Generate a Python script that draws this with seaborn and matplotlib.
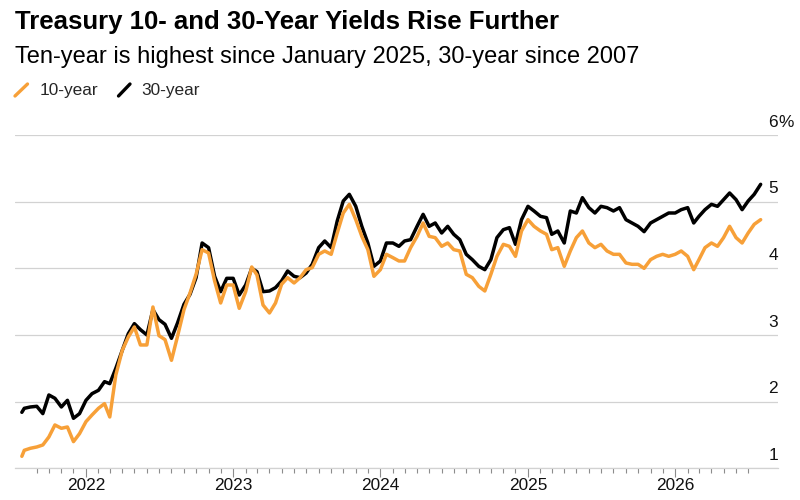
import pandas as pd
import numpy as np
import matplotlib.pyplot as plt
import matplotlib.dates as mdates
from matplotlib.lines import Line2D
import seaborn as sns

# ---- data (half-monthly samples) ----
Dates = [
    "2021-07-26", "2021-08-01", "2021-08-16", "2021-09-01", "2021-09-16", "2021-10-01",
    "2021-10-16", "2021-11-01", "2021-11-16", "2021-12-01", "2021-12-16",
    "2022-01-01", "2022-01-16", "2022-02-01", "2022-02-16", "2022-03-01", "2022-03-16",
    "2022-04-01", "2022-04-16", "2022-05-01", "2022-05-16", "2022-06-01", "2022-06-16",
    "2022-07-01", "2022-07-16", "2022-08-01", "2022-08-16", "2022-09-01", "2022-09-16",
    "2022-10-01", "2022-10-16", "2022-11-01", "2022-11-16", "2022-12-01", "2022-12-16",
    "2023-01-01", "2023-01-16", "2023-02-01", "2023-02-16", "2023-03-01", "2023-03-16",
    "2023-04-01", "2023-04-16", "2023-05-01", "2023-05-16", "2023-06-01", "2023-06-16",
    "2023-07-01", "2023-07-16", "2023-08-01", "2023-08-16", "2023-09-01", "2023-09-16",
    "2023-10-01", "2023-10-16", "2023-11-01", "2023-11-16", "2023-12-01", "2023-12-16",
    "2024-01-01", "2024-01-16", "2024-02-01", "2024-02-16", "2024-03-01", "2024-03-16",
    "2024-04-01", "2024-04-16", "2024-05-01", "2024-05-16", "2024-06-01", "2024-06-16",
    "2024-07-01", "2024-07-16", "2024-08-01", "2024-08-16", "2024-09-01", "2024-09-16",
    "2024-10-01", "2024-10-16", "2024-11-01", "2024-11-16", "2024-12-01", "2024-12-16",
    "2025-01-01", "2025-01-16", "2025-02-01", "2025-02-16", "2025-03-01", "2025-03-16",
    "2025-04-01", "2025-04-16", "2025-05-01", "2025-05-16", "2025-06-01", "2025-06-16",
    "2025-07-01", "2025-07-16", "2025-08-01", "2025-08-16", "2025-09-01", "2025-09-16",
    "2025-10-01", "2025-10-16", "2025-11-01", "2025-11-16", "2025-12-01", "2025-12-16",
    "2026-01-01", "2026-01-16", "2026-02-01", "2026-02-16", "2026-03-01", "2026-03-16",
    "2026-04-01", "2026-04-16", "2026-05-01", "2026-05-16", "2026-06-01", "2026-06-16",
    "2026-07-01", "2026-07-16", "2026-08-01",
]

Ten_Year = [
    1.18, 1.27, 1.30, 1.32, 1.35, 1.47, 1.65, 1.60, 1.62, 1.40, 1.52,
    1.70, 1.80, 1.90, 1.97, 1.77, 2.40, 2.77, 2.97, 3.12, 2.85, 2.85, 3.42,
    2.99, 2.93, 2.62, 2.98, 3.38, 3.63, 3.91, 4.28, 4.23, 3.81, 3.48, 3.75,
    3.75, 3.40, 3.65, 4.02, 3.90, 3.45, 3.33, 3.48, 3.76, 3.86, 3.78, 3.86,
    3.98, 4.01, 4.21, 4.26, 4.21, 4.53, 4.83, 4.96, 4.73, 4.48, 4.28, 3.88,
    3.98, 4.21, 4.16, 4.11, 4.11, 4.31, 4.48, 4.68, 4.48, 4.46, 4.33, 4.38,
    4.28, 4.26, 3.91, 3.86, 3.73, 3.66, 3.91, 4.18, 4.36, 4.33, 4.18, 4.56,
    4.73, 4.63, 4.56, 4.51, 4.28, 4.31, 4.03, 4.26, 4.46, 4.56, 4.38, 4.31,
    4.36, 4.26, 4.21, 4.21, 4.08, 4.06, 4.06, 4.00, 4.13, 4.18, 4.21, 4.18,
    4.21, 4.26, 4.18, 3.98, 4.13, 4.31, 4.38, 4.33, 4.46, 4.63, 4.46, 4.38,
    4.53, 4.66, 4.73,
]

Thirty_Year = [
    1.84, 1.90, 1.92, 1.93, 1.82, 2.10, 2.05, 1.92, 2.02, 1.75, 1.82,
    2.02, 2.12, 2.17, 2.30, 2.27, 2.50, 2.77, 3.02, 3.17, 3.08, 3.00, 3.38,
    3.23, 3.16, 2.95, 3.18, 3.46, 3.61, 3.86, 4.38, 4.31, 3.88, 3.65, 3.85,
    3.85, 3.60, 3.75, 4.00, 3.95, 3.65, 3.66, 3.71, 3.81, 3.96, 3.88, 3.86,
    3.93, 4.06, 4.31, 4.41, 4.31, 4.71, 5.01, 5.11, 4.93, 4.63, 4.38, 4.03,
    4.11, 4.38, 4.38, 4.33, 4.41, 4.43, 4.63, 4.81, 4.63, 4.68, 4.53, 4.63,
    4.51, 4.43, 4.21, 4.13, 4.03, 3.98, 4.13, 4.46, 4.58, 4.61, 4.36, 4.73,
    4.93, 4.86, 4.78, 4.76, 4.51, 4.56, 4.38, 4.86, 4.83, 5.06, 4.91, 4.83,
    4.93, 4.91, 4.86, 4.91, 4.73, 4.68, 4.63, 4.55, 4.68, 4.73, 4.78, 4.83,
    4.83, 4.88, 4.91, 4.68, 4.78, 4.88, 4.96, 4.93, 5.03, 5.13, 5.03, 4.88,
    5.01, 5.11, 5.26,
]

Y_Ticks = [1, 2, 3, 4, 5, 6]
Y_Labels = ["1", "2", "3", "4", "5", "6"]
Year_Ticks = ["2022-01-01", "2023-01-01", "2024-01-01", "2025-01-01", "2026-01-01"]
X_Range = ["2021-07-09", "2026-09-13"]

Title = "Treasury 10- and 30-Year Yields Rise Further"
Subtitle = "Ten-year is highest since January 2025, 30-year since 2007"
Series_Names = ["10-year", "30-year"]

Orange = "#F7A038"
Black = "#000000"
Grid_Color = "#d2d2d2"
Tick_Color = "#8c8c8c"

# ---- style ----
sns.set_theme(style="white")
plt.rcParams['font.family'] = ['Liberation Sans', 'DejaVu Sans']
plt.rcParams['axes.unicode_minus'] = False

df = pd.DataFrame({"Date": pd.to_datetime(Dates),
                   Series_Names[0]: Ten_Year,
                   Series_Names[1]: Thirty_Year})
df_long = df.melt(id_vars="Date", var_name="Series", value_name="Yield")

W, H = 800, 500
fig = plt.figure(figsize=(8, 5), dpi=100)
fig.patch.set_facecolor("white")
ax = fig.add_axes([15 / W, 1 - 468.3 / H, 763 / W, 333.3 / H])

# 30-year first so the orange line sits on top
sns.lineplot(data=df_long, x="Date", y="Yield", hue="Series",
             hue_order=[Series_Names[1], Series_Names[0]],
             palette={Series_Names[0]: Orange, Series_Names[1]: Black},
             linewidth=2.5, legend=False, ax=ax, zorder=3)

ax.set_xlim(pd.to_datetime(X_Range[0]), pd.to_datetime(X_Range[1]))
ax.set_ylim(Y_Ticks[0], Y_Ticks[-1])
ax.set_xlabel("")
ax.set_ylabel("")

# y grid + labels sitting above the gridlines, right side
ax.set_yticks(Y_Ticks)
ax.yaxis.grid(True, color=Grid_Color, linewidth=0.9, zorder=0)
ax.set_axisbelow(True)
ax.tick_params(axis='y', length=0, labelleft=False, labelright=False)
for v, lab in zip(Y_Ticks, Y_Labels):
    ax.annotate(lab, xy=(1, v), xycoords=('axes fraction', 'data'),
                xytext=(0, 6), textcoords='offset points',
                ha='right', va='baseline', fontsize=12.4, color="#111111",
                annotation_clip=False)
ax.annotate("%", xy=(1, Y_Ticks[-1]), xycoords=('axes fraction', 'data'),
            xytext=(0, 6), textcoords='offset points',
            ha='left', va='baseline', fontsize=12.4, color="#111111",
            annotation_clip=False)

# x axis: years major, months minor
ax.set_xticks(pd.to_datetime(Year_Ticks))
ax.xaxis.set_major_formatter(mdates.DateFormatter("%Y"))
minor = [d for d in pd.date_range("2021-09-01", "2026-07-01", freq="MS") if d.month != 1]
ax.set_xticks(minor, minor=True)
ax.tick_params(axis='x', which='major', length=6.2, width=0.8, color=Tick_Color,
               pad=1, labelsize=12.4, labelcolor="#111111", bottom=True)
ax.tick_params(axis='x', which='minor', length=3.8, width=0.8, color=Tick_Color, bottom=True)

for s in ["top", "right", "left"]:
    ax.spines[s].set_visible(False)
ax.spines["bottom"].set_color(Grid_Color)
ax.spines["bottom"].set_linewidth(0.9)

# ---- titles ----
fig.text(15 / W, 1 - 28.5 / H, Title, fontsize=18.5, fontweight='bold',
         ha='left', va='baseline', color="#000000")
fig.text(15 / W, 1 - 63 / H, Subtitle, fontsize=17,
         ha='left', va='baseline', color="#000000")

# ---- legend: slash icons ----
fig.add_artist(Line2D([15 / W, 27.5 / W], [1 - 96 / H, 1 - 84 / H], color=Orange,
                      linewidth=2.4, transform=fig.transFigure))
fig.text(39.3 / W, 1 - 95 / H, Series_Names[0], fontsize=12.4, ha='left', va='baseline')
fig.add_artist(Line2D([118.5 / W, 130 / W], [1 - 96 / H, 1 - 84 / H], color=Black,
                      linewidth=2.4, transform=fig.transFigure))
fig.text(141.7 / W, 1 - 95 / H, Series_Names[1], fontsize=12.4, ha='left', va='baseline')

plt.savefig("out.png", dpi=100, facecolor="white")
plt.close()
